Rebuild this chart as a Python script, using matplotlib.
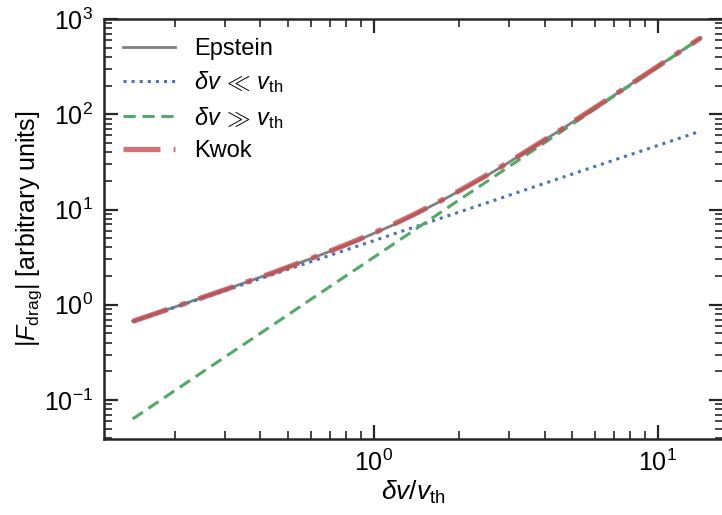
import numpy as np
import matplotlib
matplotlib.use("Agg")
from matplotlib import pyplot as plt

# values (delta v / v_th on x, |F_drag| on y)
dv = [0.142, 0.2, 0.3, 0.45, 0.65, 0.85, 1.0, 1.2, 1.4, 1.7, 2.0, 2.5,
      3.0, 4.5, 6.5, 10.0, 14.2]
f_epstein = [0.67, 0.95, 1.44, 2.21, 3.33, 4.55, 5.6, 7.1, 8.9, 12.0, 15.6,
             22.6, 31.4, 67.0, 136.0, 317.0, 636.0]
f_low = [0.667, 0.94, 1.41, 2.12, 3.06, 4.0, 4.7, 5.64, 6.58, 7.99, 9.4,
         11.75, 14.1, 21.2, 30.6, 47.0, 66.7]
f_high = [0.0633, 0.126, 0.283, 0.636, 1.33, 2.27, 3.14, 4.52, 6.16, 9.08,
          12.6, 19.6, 28.3, 63.6, 133.0, 314.0, 633.0]
f_kwok = [0.67, 0.949, 1.44, 2.21, 3.34, 4.6, 5.65, 7.22, 9.01, 12.1, 15.7,
          22.9, 31.6, 67.0, 136.5, 317.7, 636.5]

plt.rcParams["font.family"] = ["Liberation Sans", "DejaVu Sans"]
plt.rcParams["mathtext.fontset"] = "custom"
plt.rcParams["mathtext.rm"] = "Liberation Sans"
plt.rcParams["mathtext.it"] = "Liberation Sans:italic"
plt.rcParams["mathtext.bf"] = "Liberation Sans:bold"
plt.rcParams["font.size"] = 17

fig = plt.figure(figsize=(7.22, 5.15), dpi=100)
ax = fig.add_axes([0.144, 0.1476, 0.8575, 0.8154])

ax.plot(dv, f_epstein, "-", color="#808080", lw=2, label="Epstein")
ax.plot(dv, f_low, ":", color="#4C72B0", lw=2.2,
        label=r"$\delta v \,\ll\, v_{\rm th}$")
ax.plot(dv, f_high, "--", color="#55A868", lw=2.2, dashes=(4, 2.2),
        label=r"$\delta v \,\gg\, v_{\rm th}$")
ax.plot(dv, f_kwok, "-.", color="#C44E52", lw=3.8, alpha=0.8,
        dashes=(7, 2.5, 1.2, 2.5), label="Kwok")

ax.set_xscale("log")
ax.set_yscale("log")
ax.set_xlim(0.1125, 17.0)
ax.set_ylim(0.039, 1000)

ax.set_xlabel(r"$\delta v / v_{\rm th}$", fontsize=19, labelpad=2)
ax.set_ylabel(r"$|F_{\rm drag}|$ [arbitrary units]", fontsize=18,
              labelpad=0)

for s in ax.spines.values():
    s.set_linewidth(1.8)
    s.set_color("#262626")
ax.tick_params(which="both", direction="in", top=True, right=True,
               color="#262626", labelsize=18)
ax.tick_params(which="major", length=10, width=1.6, pad=8)
ax.tick_params(which="minor", length=6, width=1.2)

ax.legend(loc="upper left", frameon=False, fontsize=17, handlelength=2.2,
          labelspacing=0.4, borderaxespad=0.4)

fig.savefig("out.png", dpi=100)
